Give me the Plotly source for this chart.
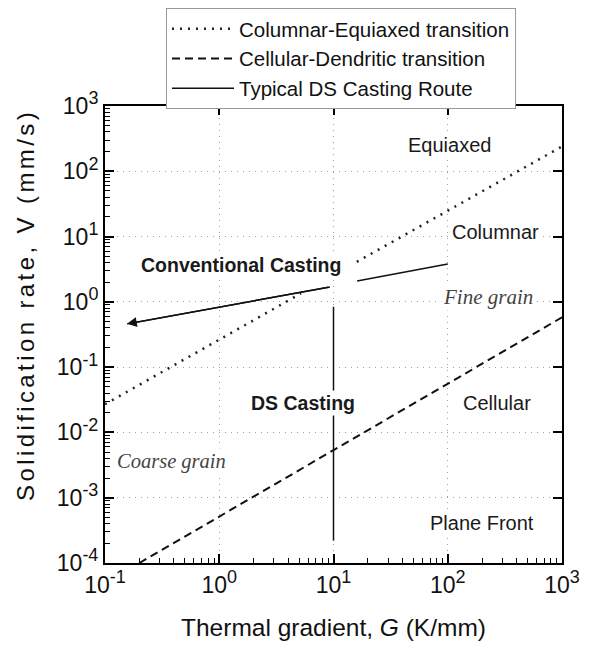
import math
import plotly.graph_objects as go

# ---------------- data ----------------
# Columnar-Equiaxed transition (dotted), broken where the route crosses it
cet_G = [0.1, 5.2, None, 16, 1000]
cet_V = [0.027, 1.35, None, 4.1, 240]
# Cellular-Dendritic transition (dashed)
cdt_G = [0.2, 1000]
cdt_V = [1e-4, 0.58]
# Typical DS casting route (solid)
route_upper_G = [100, 16.1]
route_upper_V = [3.8, 2.09]
route_lower_G = [9.3, 0.156]
route_lower_V = [1.69, 0.46]
route_vert_G = [10, 10]
route_vert_V = [0.84, 2.2e-4]

G_ticks = [0.1, 1, 10, 100, 1000]
G_exp = ["-1", "0", "1", "2", "3"]
V_ticks = [1e-4, 1e-3, 1e-2, 1e-1, 1, 10, 100, 1000]
V_exp = ["-4", "-3", "-2", "-1", "0", "1", "2", "3"]

region_labels = ["Equiaxed", "Columnar", "Cellular", "Plane Front"]
bold_labels = ["Conventional Casting", "DS Casting"]
italic_labels = ["Fine grain", "Coarse grain"]

FONT = "Arial, Liberation Sans, sans-serif"
SERIF = "Times New Roman, Liberation Serif, serif"


def pow_label(e):
    return "10<sup><span style='font-size:18px'>" + e + "</span></sup>"


fig = go.Figure()

fig.add_trace(go.Scatter(
    x=cet_G, y=cet_V, mode="lines", name="Columnar-Equiaxed transition",
    line=dict(color="#222", width=2.5, dash="2px,6px")))
fig.add_trace(go.Scatter(
    x=cdt_G, y=cdt_V, mode="lines", name="Cellular-Dendritic transition",
    line=dict(color="#111", width=2, dash="8px,5px")))
fig.add_trace(go.Scatter(
    x=route_upper_G + [None] + route_lower_G + [None] + route_vert_G,
    y=route_upper_V + [None] + route_lower_V + [None] + route_vert_V,
    mode="lines", name="Typical DS Casting Route",
    line=dict(color="#111", width=1.5)))
# dummy trace for the mirrored (top/right) axes
fig.add_trace(go.Scatter(x=[None], y=[None], xaxis="x2", yaxis="y2",
                         showlegend=False, hoverinfo="skip"))

# arrow head on the conventional casting route
fig.add_annotation(
    x=math.log10(route_lower_G[1]), y=math.log10(route_lower_V[1]),
    ax=math.log10(route_lower_G[0]), ay=math.log10(route_lower_V[0]),
    xref="x", yref="y", axref="x", ayref="y", text="", showarrow=True,
    arrowhead=2, arrowsize=1.3, arrowwidth=1.5, arrowcolor="#111")


def lab(text, x, y, size=20, family=FONT, color="#1a1a1a"):
    fig.add_annotation(x=x, y=y, xref="x", yref="y", text=text, showarrow=False,
                       font=dict(size=size, family=family, color=color),
                       bgcolor="white", borderpad=1)


lab(region_labels[0], 2.011, 2.403)
lab(region_labels[1], 2.414, 1.070)
lab(region_labels[2], 2.431, -1.548)
lab(region_labels[3], 2.300, -3.386)
lab("<b>" + bold_labels[0] + "</b>", 0.190, 0.565, size=19.5)
lab("<b>" + bold_labels[1] + "</b>", 0.733, -1.548, size=19.5)
lab("<i>" + italic_labels[0] + "</i>", 2.352, 0.075, size=21, family=SERIF, color="#444")
lab("<i>" + italic_labels[1] + "</i>", -0.414, -2.452, size=20.5, family=SERIF, color="#444")

# y-axis title (placed as a rotated annotation, as in the reference)
fig.add_annotation(x=-0.1729, y=0.5646, xref="paper", yref="paper", textangle=-90,
                   xanchor="center", yanchor="middle", showarrow=False,
                   text="<span style='letter-spacing:3.4px'>Solidification rate, V (mm/s)</span>",
                   font=dict(size=24, family=FONT, color="#111"))

minor_G = [m * 10 ** e for e in range(-1, 3) for m in range(2, 10)]
minor_V = [m * 10 ** e for e in range(-4, 3) for m in range(2, 10)]

common = dict(type="log", showline=True, linewidth=2, linecolor="black", mirror=True,
              ticks="inside", ticklen=9, tickwidth=1.5, tickcolor="black",
              showgrid=True, gridcolor="#a0a0a0", griddash="1px,5px", gridwidth=1,
              zeroline=False, automargin=False,
              tickfont=dict(size=23, family=FONT, color="#111"))

fig.update_layout(
    width=595, height=646,
    margin=dict(l=97, r=41, t=98, b=91, autoexpand=False),
    plot_bgcolor="white", paper_bgcolor="white",
    font=dict(family=FONT, color="#111"),
    xaxis=dict(range=[-1, 3], tickmode="array", tickvals=G_ticks,
               ticktext=[pow_label(e) for e in G_exp],
               minor=dict(tickmode="array", tickvals=minor_G, ticks="inside", ticklen=5,
                          tickwidth=1.2, tickcolor="black", showgrid=False),
               title=dict(text="Thermal gradient, <i>G</i> (K/mm)",
                          font=dict(size=24.5, family=FONT, color="#111"), standoff=22),
               **common),
    yaxis=dict(range=[-4, 3], tickmode="array", tickvals=V_ticks,
               ticktext=[pow_label(e) for e in V_exp],
               minor=dict(tickmode="array", tickvals=minor_V, ticks="inside", ticklen=5,
                          tickwidth=1.2, tickcolor="black", showgrid=False),
               **common),
    xaxis2=dict(type="log", range=[-1, 3], overlaying="x", side="top", anchor="y2",
                tickmode="array", tickvals=G_ticks, ticks="inside", ticklen=9, tickwidth=1.5,
                tickcolor="black", showticklabels=False, showgrid=False, showline=False,
                zeroline=False, automargin=False),
    yaxis2=dict(type="log", range=[-4, 3], overlaying="y", side="right", anchor="x2",
                tickmode="array", tickvals=V_ticks, ticks="inside", ticklen=9, tickwidth=1.5,
                tickcolor="black", showticklabels=False, showgrid=False, showline=False,
                zeroline=False, automargin=False),
    legend=dict(x=0.1335, y=1.2144, xanchor="left", yanchor="top",
                bordercolor="#999", borderwidth=1, bgcolor="white",
                font=dict(size=20.5, family=FONT, color="#111"), itemwidth=62,
                tracegroupgap=0),
    showlegend=True,
)

fig.write_html("out.html")
